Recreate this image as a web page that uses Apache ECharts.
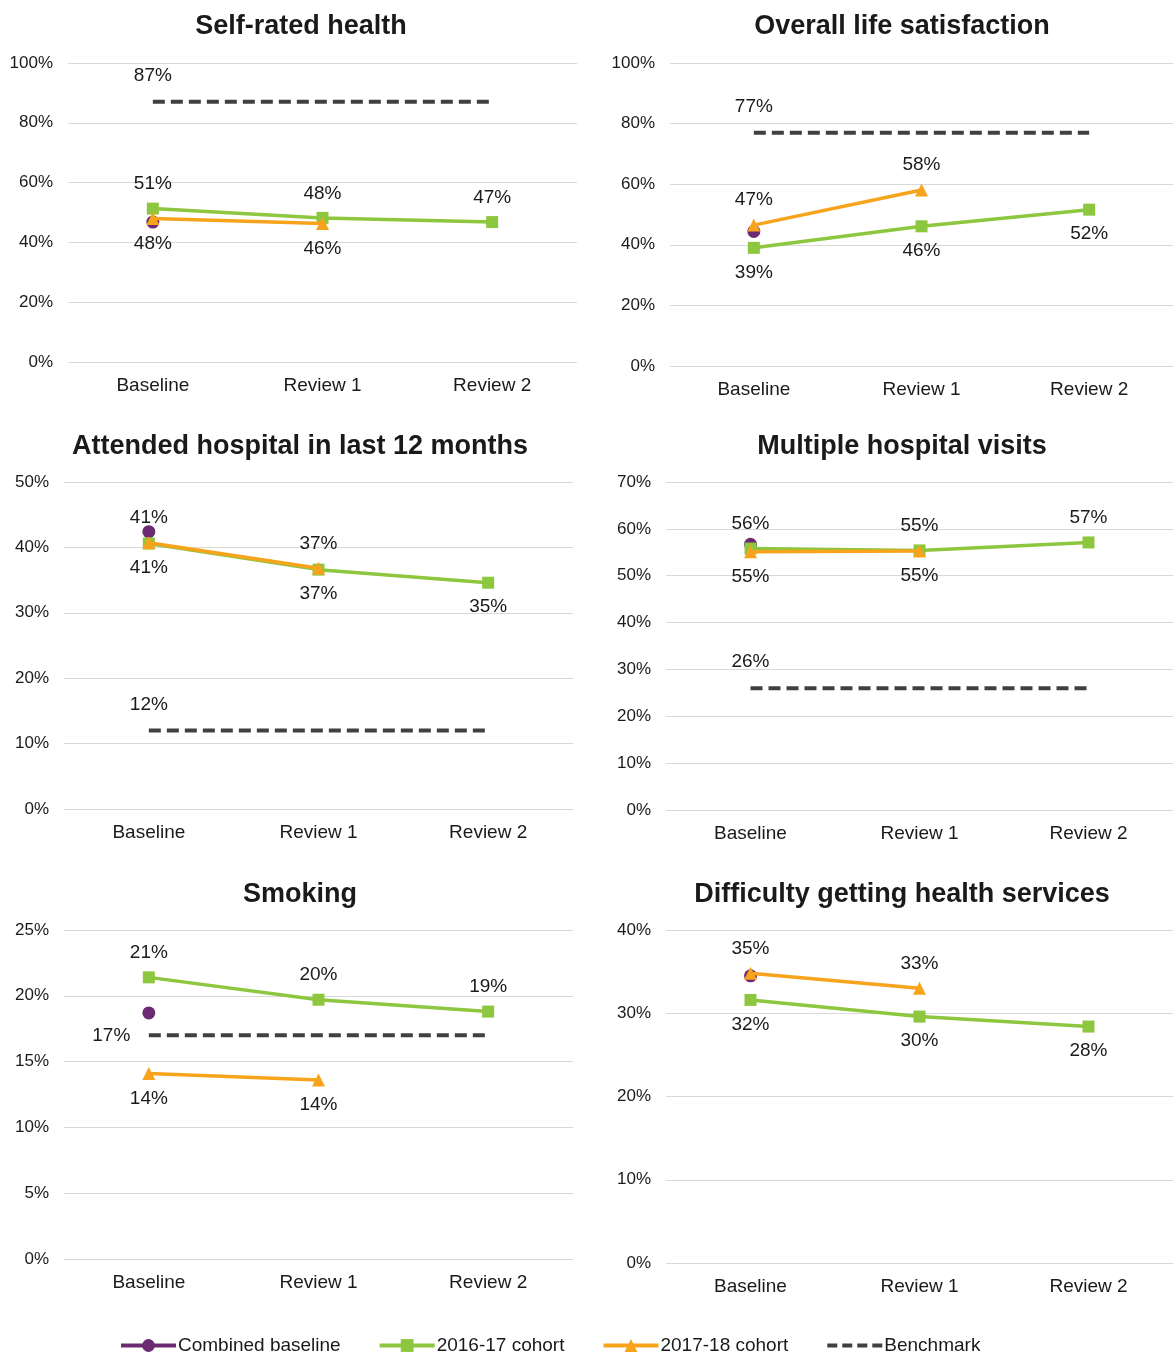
<!DOCTYPE html>
<html>
<head>
<meta charset="utf-8">
<script src="https://cdn.jsdelivr.net/npm/echarts@6/dist/echarts.min.js"></script>
<style>
  html, body { margin: 0; padding: 0; background: #fff; }
  #main { width: 1173px; height: 1356px; }
</style>
</head>
<body>
<div id="main"></div>
<script>
// data (percent)
var categories = ['Baseline', 'Review 1', 'Review 2'];
var titles = ['Self-rated health', 'Overall life satisfaction', 'Attended hospital in last 12 months',
  'Multiple hospital visits', 'Smoking', 'Difficulty getting health services'];
var combinedBaseline = [46.8, 44.4, 42.4, 56.7, 18.7, 34.5];
var cohort1617 = [
  [51.3, 48.2, 46.8],
  [39.0, 46.1, 51.6],
  [40.6, 36.6, 34.6],
  [55.8, 55.4, 57.1],
  [21.4, 19.7, 18.8],
  [31.6, 29.6, 28.4]
];
var cohort1718 = [
  [48.0, 46.3],
  [46.5, 58.1],
  [40.7, 36.8],
  [55.1, 55.3],
  [14.1, 13.6],
  [34.8, 33.0]
];
var benchmark = [87, 77, 12, 26, 17, null];
var yMax = [100, 100, 50, 70, 25, 40];
var yStep = [20, 20, 10, 10, 5, 10];

// layout of each panel
var panels = [
  { left: 68, top: 63, width: 509, height: 299, tx: 296, ty: 8, green: 'top', orange: 'bottom', bench: 'top' },
  { left: 670, top: 63, width: 507, height: 303, tx: 897, ty: 8, green: 'bottom', orange: 'top', bench: 'top' },
  { left: 64, top: 482, width: 509, height: 327, tx: 295, ty: 428, green: 'bottom', orange: 'top', bench: 'top' },
  { left: 666, top: 482, width: 510, height: 328, tx: 897, ty: 428, green: 'top', orange: 'bottom', bench: 'top' },
  { left: 64, top: 930, width: 509, height: 329, tx: 295, ty: 876, green: 'top', orange: 'bottom', bench: 'left' },
  { left: 666, top: 930, width: 510, height: 333, tx: 897, ty: 876, green: 'bottom', orange: 'top', bench: 'top' }
];

var PURPLE = '#6b2a72', GREEN = '#8dc63f', ORANGE = '#f7a31c', DARK = '#404040';
var TXT = '#1a1a1a';
var FONT = '"Liberation Sans", Arial, sans-serif';

var chart = echarts.init(document.getElementById('main'));

var title = [], grid = [], xAxis = [], yAxis = [], series = [];

function pct(p) { return Math.round(p.value) + '%'; }

for (var i = 0; i < panels.length; i++) {
  var p = panels[i];
  title.push({
    text: titles[i], left: p.tx, top: p.ty, textAlign: 'center',
    textStyle: { fontFamily: FONT, fontSize: 27, fontWeight: 'bold', color: TXT }
  });
  grid.push({ left: p.left, top: p.top, width: p.width, height: p.height });
  xAxis.push({
    type: 'category', gridIndex: i, data: categories, boundaryGap: true,
    axisLine: { show: false }, axisTick: { show: false },
    axisLabel: { fontFamily: FONT, fontSize: 19, color: TXT, margin: 14 }
  });
  yAxis.push({
    type: 'value', gridIndex: i, min: 0, max: yMax[i], interval: yStep[i],
    axisLine: { show: false }, axisTick: { show: false },
    axisLabel: { fontFamily: FONT, fontSize: 17, color: TXT, margin: 15, formatter: '{value}%' },
    splitLine: { lineStyle: { color: '#d9d9d9', width: 1 } }
  });

  series.push({
    name: 'Combined baseline', type: 'line', xAxisIndex: i, yAxisIndex: i,
    data: [combinedBaseline[i]], symbol: 'circle', symbolSize: 13,
    itemStyle: { color: PURPLE }, lineStyle: { color: PURPLE, width: 3.5 },
    label: { show: false }, z: 2
  });
  series.push({
    name: '2016-17 cohort', type: 'line', xAxisIndex: i, yAxisIndex: i,
    data: cohort1617[i], symbol: 'rect', symbolSize: 12,
    itemStyle: { color: GREEN }, lineStyle: { color: GREEN, width: 3.5 },
    label: { show: true, position: p.green, distance: 9, formatter: pct, fontFamily: FONT, fontSize: 19, color: TXT },
    z: 3
  });
  series.push({
    name: '2017-18 cohort', type: 'line', xAxisIndex: i, yAxisIndex: i,
    data: cohort1718[i], symbol: 'triangle', symbolSize: 13,
    itemStyle: { color: ORANGE }, lineStyle: { color: ORANGE, width: 3.5 },
    label: { show: true, position: p.orange, distance: 9, formatter: pct, fontFamily: FONT, fontSize: 19, color: TXT },
    z: 4
  });
  var bData = [];
  if (benchmark[i] !== null) {
    for (var k = 0; k < categories.length; k++) {
      bData.push(k === 0 ? { value: benchmark[i], label: { show: true } } : benchmark[i]);
    }
  }
  series.push({
    name: 'Benchmark', type: 'line', xAxisIndex: i, yAxisIndex: i,
    data: bData, symbol: 'circle', symbolSize: 1,
    itemStyle: { color: 'rgba(0,0,0,0)' },
    lineStyle: { color: DARK, width: 4, type: [12, 6] },
    label: { show: false, position: p.bench, distance: p.bench === 'left' ? 18 : 16, formatter: pct, fontFamily: FONT, fontSize: 19, color: TXT },
    z: 5
  });
}

chart.setOption({
  backgroundColor: '#fff',
  animation: false,
  title: title,
  grid: grid,
  xAxis: xAxis,
  yAxis: yAxis,
  legend: {
    data: [
      { name: 'Combined baseline', itemStyle: { color: PURPLE }, lineStyle: { color: PURPLE, width: 4 } },
      { name: '2016-17 cohort', itemStyle: { color: GREEN }, lineStyle: { color: GREEN, width: 4 } },
      { name: '2017-18 cohort', itemStyle: { color: ORANGE }, lineStyle: { color: ORANGE, width: 4 } },
      { name: 'Benchmark', itemStyle: { color: 'rgba(0,0,0,0)' }, lineStyle: { color: DARK, width: 4, type: [10, 5] } }
    ],
    left: 114, top: 1331,
    itemWidth: 55, itemHeight: 16, itemGap: 37,
    textStyle: { fontFamily: FONT, fontSize: 19, color: TXT, padding: [0, 0, 0, -3] }
  },
  series: series
});
</script>
</body>
</html>
